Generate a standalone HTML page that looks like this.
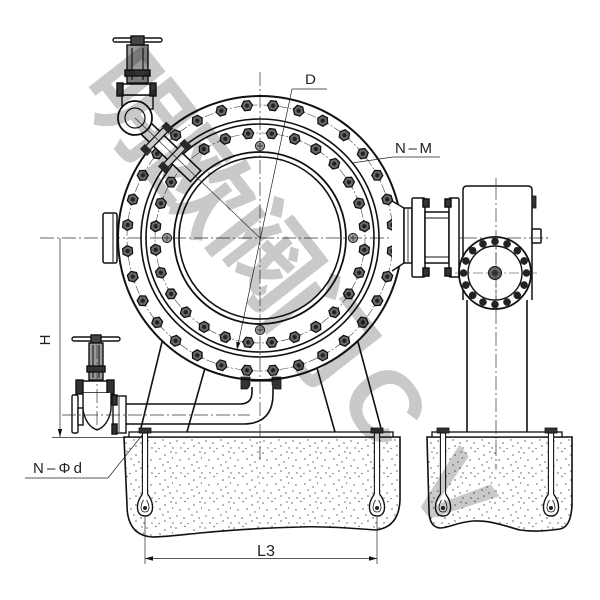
<!DOCTYPE html>
<html><head><meta charset="utf-8"><style>
html,body{margin:0;padding:0;background:#fff;}
svg{display:block;}
text{font-family:"Liberation Sans","Noto Sans CJK SC",sans-serif;}
</style></head><body>
<svg width="600" height="600" viewBox="0 0 600 600" xmlns="http://www.w3.org/2000/svg">
<defs>
<pattern id="dots" width="29" height="25" patternUnits="userSpaceOnUse">
<g fill="#555">
<circle cx="2" cy="3" r="0.75"/><circle cx="11" cy="1.5" r="0.7"/><circle cx="20" cy="5" r="0.75"/><circle cx="26" cy="2" r="0.7"/>
<circle cx="6" cy="10" r="0.7"/><circle cx="15" cy="9" r="0.75"/><circle cx="23" cy="12" r="0.7"/><circle cx="27.5" cy="8" r="0.65"/>
<circle cx="3" cy="16" r="0.7"/><circle cx="10" cy="18" r="0.75"/><circle cx="18" cy="15" r="0.7"/><circle cx="25" cy="18" r="0.75"/>
<circle cx="7" cy="23" r="0.7"/><circle cx="14" cy="23.5" r="0.65"/><circle cx="20" cy="21" r="0.75"/><circle cx="28" cy="23" r="0.7"/>
</g>
</pattern>
<g id="b"><polygon points="5.5,0 2.75,4.76 -2.75,4.76 -5.5,0 -2.75,-4.76 2.75,-4.76" fill="#6a6a6a" stroke="#111" stroke-width="1.3"/><circle r="2.2" fill="#222"/></g>
<g id="s"><circle r="4.6" fill="#999" stroke="#222" stroke-width="1"/><path d="M-3,0H3M0,-3V3" stroke="#222" stroke-width="0.7"/></g>
<g id="g"><circle r="3.8" fill="#222"/></g>
<g id="anc">
<rect x="-6" y="-4" width="12" height="5" fill="#333" stroke="#111" stroke-width="0.8"/>
<rect x="-2.6" y="1" width="5.2" height="66" fill="#fff" stroke="#111" stroke-width="1.1"/>
<path d="M-2.6,62 C-10,72 -9,84 0,84 C9,84 10,72 2.6,62" fill="#fff" stroke="#111" stroke-width="1.4"/>
<path d="M-1.5,68 C-5,74 -5,80 0,80 C5,80 5,74 1.5,68" fill="none" stroke="#111" stroke-width="0.8"/>
<circle cx="0" cy="76" r="2" fill="#222"/>
</g>
</defs>

<!-- foundations -->
<path d="M124,437 L400,437 L400,500 Q399,527 376,530 C350,528 320,526 300,527 C260,528 230,530 200,533 C180,535 165,537 152,537 Q127,535 127,505 Z" fill="url(#dots)" stroke="#111" stroke-width="1.6"/>
<path d="M427,437 L572,437 L572,505 Q571,527 560,529 C545,531 535,532 520,530 C505,526 490,520 473,521 C458,522 448,528 440,528 Q429,527 429,510 Z" fill="url(#dots)" stroke="#111" stroke-width="1.6"/>
<rect x="129" y="432" width="264" height="5" fill="#fff" stroke="#111" stroke-width="1.3"/>
<rect x="432" y="432" width="130" height="5" fill="#fff" stroke="#111" stroke-width="1.3"/>

<!-- legs -->
<g stroke="#111" stroke-width="1.6" fill="none">
<line x1="162" y1="342" x2="140" y2="432"/>
<line x1="205" y1="368" x2="187" y2="432"/>
<line x1="317" y1="368" x2="335" y2="432"/>
<line x1="358" y1="342" x2="382" y2="432"/>
<line x1="467" y1="300" x2="467" y2="432"/>
<line x1="527" y1="300" x2="527" y2="432"/>
</g>

<use href="#anc" transform="translate(145 432)"/>
<use href="#anc" transform="translate(377 432)"/>
<use href="#anc" transform="translate(443 432)"/>
<use href="#anc" transform="translate(551 432)"/>

<!-- drain pipe -->
<g stroke="#111" stroke-width="1.6" fill="none">
<path d="M126,404 H240 Q252,404 252,392 V387"/>
<path d="M126,424 H243 Q273,424 273,394 V387"/>
<line x1="251" y1="381" x2="272" y2="381" stroke-width="1.2"/>
</g>
<path d="M241,377 h9 v6 q0,4 -3,6 h-6 z" fill="#333" stroke="#111" stroke-width="0.8"/>
<path d="M281,377 h-9 v6 q0,4 3,6 h6 z" fill="#333" stroke="#111" stroke-width="0.8"/>

<!-- left bottom valve -->
<g stroke="#111" stroke-width="1.4" fill="#fff">
<rect x="72" y="337" width="48" height="4" rx="2"/>
<rect x="91" y="335" width="10" height="8" fill="#444"/>
<rect x="89" y="343" width="14" height="37" fill="#999"/>
<line x1="93" y1="345" x2="93" y2="378" stroke="#222" stroke-width="1.2"/>
<line x1="99" y1="345" x2="99" y2="378" stroke="#222" stroke-width="1.2"/>
<rect x="87" y="366" width="18" height="6" fill="#333"/>
<rect x="77" y="381" width="36" height="12" rx="2"/>
<rect x="76" y="380" width="7" height="14" fill="#333"/>
<rect x="107" y="380" width="7" height="14" fill="#333"/>
<path d="M83,393 L83,410 Q86,426 97,430 Q108,426 111,410 L111,393"/>
<rect x="72" y="395" width="6" height="38" rx="1.5"/>
<rect x="78" y="408" width="5" height="17"/>
<rect x="113" y="396" width="13" height="37"/>
<rect x="112" y="395" width="5" height="10" fill="#333"/>
<rect x="112" y="424" width="5" height="10" fill="#333"/>
<line x1="119" y1="397" x2="119" y2="432" stroke-width="0.8"/>
</g>

<!-- centerlines -->
<g stroke="#333" stroke-width="0.7" fill="none" stroke-dasharray="14 3 2 3">
<line x1="40" y1="238" x2="548" y2="238"/>
<line x1="260" y1="72" x2="260" y2="462"/>
<line x1="496" y1="178" x2="496" y2="470"/>
<line x1="62" y1="415" x2="250" y2="415"/>
<line x1="97" y1="345" x2="97" y2="432"/>
</g>

<!-- main flange -->
<g fill="none" stroke="#111">
<circle cx="260" cy="238" r="142" stroke-width="2"/>
<circle cx="260" cy="238" r="133" stroke-width="0.6" stroke-dasharray="9 2 2 2" stroke="#444"/>
<circle cx="260" cy="238" r="119" stroke-width="1.6"/>
<circle cx="260" cy="238" r="114" stroke-width="1.6"/>
<circle cx="260" cy="238" r="105" stroke-width="0.6" stroke-dasharray="9 2 2 2" stroke="#444"/>
<circle cx="260" cy="238" r="86" stroke-width="1.8"/>
<circle cx="260" cy="238" r="81" stroke-width="1.6"/>
</g>

<rect x="103" y="213" width="14" height="50" rx="2" fill="#fff" stroke="#111" stroke-width="1.5"/>
<line x1="113" y1="214" x2="113" y2="262" stroke="#111" stroke-width="1"/>

<!-- outer bolts -->
<g>
<use href="#b" transform="rotate(5.625 260 238) translate(260 105)"/>
<use href="#b" transform="rotate(16.875 260 238) translate(260 105)"/>
<use href="#b" transform="rotate(28.125 260 238) translate(260 105)"/>
<use href="#b" transform="rotate(39.375 260 238) translate(260 105)"/>
<use href="#b" transform="rotate(50.625 260 238) translate(260 105)"/>
<use href="#b" transform="rotate(61.875 260 238) translate(260 105)"/>
<use href="#b" transform="rotate(73.125 260 238) translate(260 105)"/>
<use href="#b" transform="rotate(84.375 260 238) translate(260 105)"/>
<use href="#b" transform="rotate(95.625 260 238) translate(260 105)"/>
<use href="#b" transform="rotate(106.875 260 238) translate(260 105)"/>
<use href="#b" transform="rotate(118.125 260 238) translate(260 105)"/>
<use href="#b" transform="rotate(129.375 260 238) translate(260 105)"/>
<use href="#b" transform="rotate(140.625 260 238) translate(260 105)"/>
<use href="#b" transform="rotate(151.875 260 238) translate(260 105)"/>
<use href="#b" transform="rotate(163.125 260 238) translate(260 105)"/>
<use href="#b" transform="rotate(174.375 260 238) translate(260 105)"/>
<use href="#b" transform="rotate(185.625 260 238) translate(260 105)"/>
<use href="#b" transform="rotate(196.875 260 238) translate(260 105)"/>
<use href="#b" transform="rotate(208.125 260 238) translate(260 105)"/>
<use href="#b" transform="rotate(219.375 260 238) translate(260 105)"/>
<use href="#b" transform="rotate(230.625 260 238) translate(260 105)"/>
<use href="#b" transform="rotate(241.875 260 238) translate(260 105)"/>
<use href="#b" transform="rotate(253.125 260 238) translate(260 105)"/>
<use href="#b" transform="rotate(264.375 260 238) translate(260 105)"/>
<use href="#b" transform="rotate(275.625 260 238) translate(260 105)"/>
<use href="#b" transform="rotate(286.875 260 238) translate(260 105)"/>
<use href="#b" transform="rotate(298.125 260 238) translate(260 105)"/>
<use href="#b" transform="rotate(309.375 260 238) translate(260 105)"/>
<use href="#b" transform="rotate(320.625 260 238) translate(260 105)"/>
<use href="#b" transform="rotate(331.875 260 238) translate(260 105)"/>
<use href="#b" transform="rotate(343.125 260 238) translate(260 105)"/>
<use href="#b" transform="rotate(354.375 260 238) translate(260 105)"/>
</g>
<!-- inner bolts -->
<g>
<use href="#b" transform="rotate(6.43 260 238) translate(260 133)"/>
<use href="#b" transform="rotate(19.29 260 238) translate(260 133)"/>
<use href="#b" transform="rotate(32.14 260 238) translate(260 133)"/>
<use href="#b" transform="rotate(45 260 238) translate(260 133)"/>
<use href="#b" transform="rotate(57.86 260 238) translate(260 133)"/>
<use href="#b" transform="rotate(70.71 260 238) translate(260 133)"/>
<use href="#b" transform="rotate(83.57 260 238) translate(260 133)"/>
<use href="#b" transform="rotate(96.43 260 238) translate(260 133)"/>
<use href="#b" transform="rotate(109.29 260 238) translate(260 133)"/>
<use href="#b" transform="rotate(122.14 260 238) translate(260 133)"/>
<use href="#b" transform="rotate(135 260 238) translate(260 133)"/>
<use href="#b" transform="rotate(147.86 260 238) translate(260 133)"/>
<use href="#b" transform="rotate(160.71 260 238) translate(260 133)"/>
<use href="#b" transform="rotate(173.57 260 238) translate(260 133)"/>
<use href="#b" transform="rotate(186.43 260 238) translate(260 133)"/>
<use href="#b" transform="rotate(199.29 260 238) translate(260 133)"/>
<use href="#b" transform="rotate(212.14 260 238) translate(260 133)"/>
<use href="#b" transform="rotate(225 260 238) translate(260 133)"/>
<use href="#b" transform="rotate(237.86 260 238) translate(260 133)"/>
<use href="#b" transform="rotate(250.71 260 238) translate(260 133)"/>
<use href="#b" transform="rotate(263.57 260 238) translate(260 133)"/>
<use href="#b" transform="rotate(276.43 260 238) translate(260 133)"/>
<use href="#b" transform="rotate(289.29 260 238) translate(260 133)"/>
<use href="#b" transform="rotate(302.14 260 238) translate(260 133)"/>
<use href="#b" transform="rotate(315 260 238) translate(260 133)"/>
<use href="#b" transform="rotate(327.86 260 238) translate(260 133)"/>
<use href="#b" transform="rotate(340.71 260 238) translate(260 133)"/>
<use href="#b" transform="rotate(353.57 260 238) translate(260 133)"/>
</g>
<use href="#s" transform="translate(260 146)"/>
<use href="#s" transform="translate(353 238)"/>
<use href="#s" transform="translate(260 330)"/>
<use href="#s" transform="translate(167 238)"/>

<!-- right side connection -->
<g stroke="#111" stroke-width="1.5" fill="#fff">
<path d="M392,201 L404,208 L404,263 L392,271"/>
<rect x="404" y="208" width="8" height="55"/>
<line x1="408" y1="209" x2="408" y2="262" stroke-width="0.8"/>
<rect x="412" y="198" width="13" height="79" rx="1.5"/>
<rect x="425" y="212" width="24" height="51"/>
<line x1="425" y1="218" x2="449" y2="218" stroke-width="1"/>
<line x1="425" y1="257" x2="449" y2="257" stroke-width="1"/>
<rect x="449" y="198" width="10" height="79" rx="1.5"/>
<rect x="423" y="199" width="6" height="8" fill="#333"/>
<rect x="423" y="268" width="6" height="8" fill="#333"/>
<rect x="445" y="199" width="6" height="8" fill="#333"/>
<rect x="445" y="268" width="6" height="8" fill="#333"/>
<path d="M463,300 V190 Q463,186 467,186 H528 Q532,186 532,190 V300"/>
<rect x="532" y="196" width="4" height="12" fill="#333" stroke-width="0.8"/>
<rect x="532" y="229" width="9" height="14" rx="1"/>
<circle cx="495" cy="273" r="36" stroke-width="1.8"/>
<circle cx="495" cy="273" r="27" stroke-width="1.4"/>
</g>
<g stroke="#333" stroke-width="0.7" stroke-dasharray="14 3 2 3">
<line x1="463" y1="238" x2="548" y2="238"/>
<line x1="496" y1="186" x2="496" y2="300"/>
</g>
<g>
<use href="#g" transform="rotate(0 495 273) translate(495 241.5)"/>
<use href="#g" transform="rotate(22.5 495 273) translate(495 241.5)"/>
<use href="#g" transform="rotate(45 495 273) translate(495 241.5)"/>
<use href="#g" transform="rotate(67.5 495 273) translate(495 241.5)"/>
<use href="#g" transform="rotate(90 495 273) translate(495 241.5)"/>
<use href="#g" transform="rotate(112.5 495 273) translate(495 241.5)"/>
<use href="#g" transform="rotate(135 495 273) translate(495 241.5)"/>
<use href="#g" transform="rotate(157.5 495 273) translate(495 241.5)"/>
<use href="#g" transform="rotate(180 495 273) translate(495 241.5)"/>
<use href="#g" transform="rotate(202.5 495 273) translate(495 241.5)"/>
<use href="#g" transform="rotate(225 495 273) translate(495 241.5)"/>
<use href="#g" transform="rotate(247.5 495 273) translate(495 241.5)"/>
<use href="#g" transform="rotate(270 495 273) translate(495 241.5)"/>
<use href="#g" transform="rotate(292.5 495 273) translate(495 241.5)"/>
<use href="#g" transform="rotate(315 495 273) translate(495 241.5)"/>
<use href="#g" transform="rotate(337.5 495 273) translate(495 241.5)"/>
</g>
<circle cx="495" cy="273" r="6.5" fill="#666" stroke="#111" stroke-width="1"/>
<circle cx="495" cy="273" r="3" fill="#333"/>
<line x1="455" y1="273" x2="540" y2="273" stroke="#333" stroke-width="0.6" stroke-dasharray="10 3 2 3"/>
<line x1="496" y1="235" x2="496" y2="310" stroke="#333" stroke-width="0.6" stroke-dasharray="10 3 2 3"/>

<!-- top-left valve + pipe -->
<g transform="translate(135 118) rotate(43.8)">
<rect x="0" y="-7.5" width="84" height="15" fill="#fff" stroke="#111" stroke-width="1.6"/>
<g transform="translate(30 0)">
<rect x="-3" y="-18" width="6" height="36" fill="#fff" stroke="#111" stroke-width="1.2"/>
<rect x="-5" y="-19" width="10" height="7" fill="#333"/>
<rect x="-5" y="12" width="10" height="7" fill="#333"/>
</g>
<g transform="translate(55 0)">
<rect x="-3" y="-18" width="6" height="36" fill="#fff" stroke="#111" stroke-width="1.2"/>
<rect x="-5" y="-19" width="10" height="7" fill="#333"/>
<rect x="-5" y="12" width="10" height="7" fill="#333"/>
</g>
</g>
<g stroke="#111" stroke-width="1.4" fill="#fff">
<rect x="122" y="95" width="31" height="14"/>
<circle cx="135" cy="118" r="17" stroke-width="1.8"/>
<circle cx="135" cy="118" r="10" stroke-width="1.2"/>
<rect x="118" y="84" width="37" height="11" rx="2"/>
<rect x="117" y="83" width="6" height="13" fill="#333"/>
<rect x="150" y="83" width="6" height="13" fill="#333"/>
<rect x="127" y="45" width="21" height="38" fill="#999"/>
<line x1="132" y1="48" x2="132" y2="80" stroke="#222" stroke-width="1.3"/>
<line x1="143" y1="48" x2="143" y2="80" stroke="#222" stroke-width="1.3"/>
<rect x="125" y="70" width="25" height="6" fill="#333"/>
<rect x="113" y="38" width="49" height="4" rx="2"/>
<rect x="131" y="36" width="13" height="9" fill="#444"/>
</g>
<line x1="135" y1="118" x2="260" y2="238" stroke="#222" stroke-width="0.6"/>

<!-- leaders and dimensions -->
<g stroke="#222" stroke-width="0.7" fill="none">
<line x1="292" y1="89" x2="327" y2="89"/>
<line x1="292" y1="89" x2="237.5" y2="347"/>
<line x1="352" y1="163" x2="393" y2="157"/>
<line x1="393" y1="157" x2="440" y2="157"/>
<line x1="60" y1="238" x2="60" y2="437"/>
<line x1="52" y1="437.5" x2="126" y2="437.5"/>
<line x1="25" y1="478" x2="108" y2="478"/>
<line x1="108" y1="478" x2="143" y2="434"/>
<line x1="145" y1="517" x2="145" y2="564"/>
<line x1="377" y1="517" x2="377" y2="564"/>
<line x1="145" y1="558.5" x2="377" y2="558.5"/>
</g>
<polygon points="237,350 240.4,342.6 236.2,341.7" fill="#111"/>
<polygon points="60,437 57.8,429 62.2,429" fill="#111"/>
<polygon points="145,558.5 153,556.3 153,560.7" fill="#111"/>
<polygon points="377,558.5 369,556.3 369,560.7" fill="#111"/>

<g fill="#222">
<text x="305" y="84" font-size="14" textLength="11" lengthAdjust="spacingAndGlyphs">D</text>
<text x="395" y="153" font-size="15" textLength="37" lengthAdjust="spacing">N–M</text>
<text x="33" y="473" font-size="15" textLength="49" lengthAdjust="spacing">N–Φd</text>
<text x="257" y="556" font-size="16" textLength="18" lengthAdjust="spacingAndGlyphs">L3</text>
<text x="0" y="0" font-size="15" transform="translate(50 340) rotate(-90)" text-anchor="middle">H</text>
</g>

<!-- watermark -->
<g style="mix-blend-mode:multiply" fill="#c9c9c9" font-weight="bold" font-size="100" text-anchor="middle" dominant-baseline="central">
<text x="142" y="100" transform="rotate(52 142 100)" style="font-family:'Noto Sans CJK SC',sans-serif">明</text>
<text x="207" y="177" transform="rotate(52 207 177)" style="font-family:'Noto Sans CJK SC',sans-serif">欧</text>
<text x="272" y="250" transform="rotate(52 272 250)" style="font-family:'Noto Sans CJK SC',sans-serif">阀</text>
<text x="326" y="326" transform="rotate(52 326 326)" style="font-family:'Noto Sans CJK SC',sans-serif">门</text>
<text x="384" y="405" transform="rotate(52 384 405)" style="font-family:'Liberation Sans',sans-serif">C</text>
<text x="452" y="492" transform="rotate(52 452 492)" style="font-family:'Liberation Sans',sans-serif">V</text>
</g>
</svg>
</body></html>
